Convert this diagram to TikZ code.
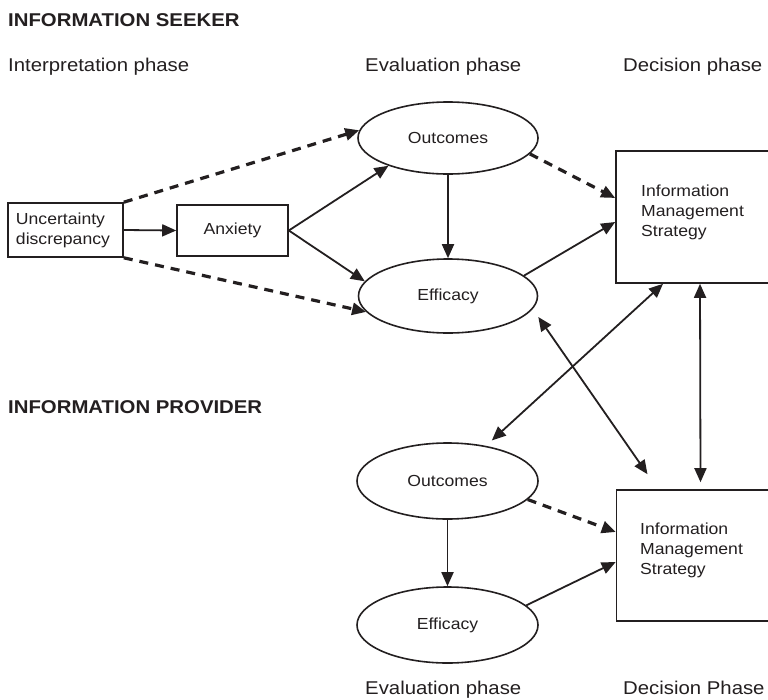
\documentclass[tikz,border=0pt]{standalone}
\usepackage{fontspec}
\setmainfont[FakeStretch=1.1]{Liberation Sans}
\usetikzlibrary{arrows.meta,shapes.geometric}
\definecolor{ink}{RGB}{35,31,32}
\newcommand\dgLbl{\fontsize{18.5}{22}\selectfont}
\newcommand\dgNode{\fontsize{16}{20}\selectfont}
\begin{document}
\begin{tikzpicture}[x=1pt,y=-1pt,
  tip/.style={-{Triangle[length=14pt,width=12pt]}},
  dtip/.style={{Triangle[length=14pt,width=12pt]}-{Triangle[length=14pt,width=12pt]}},
  solidln/.style={draw=ink, line width=1.8pt},
  dashln/.style={draw=ink, line width=3.2pt, dash pattern=on 9pt off 7pt},
  box/.style={draw=ink, line width=1.6pt, rectangle, inner sep=0pt, text=ink, font=\dgNode},
  oval/.style={draw=ink, line width=1.6pt, ellipse, inner sep=0pt, text=ink, font=\dgNode},
  lbl/.style={anchor=base west, inner sep=0pt, text=ink, font=\dgLbl},
  imstext/.style={anchor=north west, inner sep=0pt, align=left, text=ink, font=\dgNode}]
\clip (0,0) rectangle (768,699);
\fill[white] (0,0) rectangle (768,699);

% headings
\node[lbl, font=\dgLbl\bfseries] (seeker) at (8,26) {INFORMATION SEEKER};
\node[lbl] (ip) at (8,71.5) {Interpretation phase};
\node[lbl] (ep1) at (365,71.5) {Evaluation phase};
\node[lbl] (dp1) at (623,71.5) {Decision phase};
\node[lbl, font=\dgLbl\bfseries] (prov) at (8,413.5) {INFORMATION PROVIDER};
\node[lbl] (ep2) at (365,694.5) {Evaluation phase};
\node[lbl] (dp2) at (623,694.5) {Decision Phase};

% seeker nodes
\node[box, minimum width=115pt, minimum height=54pt, text width=99pt, inner xsep=8pt, align=left] (uc) at (65.5,230) {Uncertainty\\discrepancy};
\node[box, minimum width=111pt, minimum height=51pt] (anx) at (232.5,230.5) {Anxiety};
\node[oval, minimum width=180pt, minimum height=72pt] (o1) at (448,138) {Outcomes};
\node[oval, minimum width=179pt, minimum height=74pt] (e1) at (448,296) {Efficacy};
\node[box, minimum width=156pt, minimum height=132pt] (ims1) at (694,217) {};
\node[imstext] (ims1t) at (641,185) {Information\\Management\\Strategy};

% provider nodes
\node[oval, minimum width=181pt, minimum height=76pt] (o2) at (447.5,481) {Outcomes};
\node[oval, minimum width=181pt, minimum height=76pt] (e2) at (447.5,625) {Efficacy};
\node[box, minimum width=156pt, minimum height=131pt] (ims2) at (694.5,555.5) {};
\node[imstext] (ims2t) at (640,523) {Information\\Management\\Strategy};

% seeker connectors
\draw[dashln, tip] (uc.north east) -- (o1.175);
\draw[dashln, tip] (uc.south east) -- (e1.191);
\draw[solidln, tip] (uc.east) -- (anx.west);
\draw[solidln, tip] (anx.east) -- (o1.205);
\draw[solidln, tip] (anx.east) -- (e1.170);
\draw[solidln, tip] (o1.south) -- (e1.north);
\draw[dashln, tip] (o1.-11) -- ([yshift=19pt]ims1.west);
\draw[solidln, tip] (e1.15) -- ([yshift=-5pt]ims1.west);

% cross connectors
\draw[solidln, dtip, shorten >=8pt] ([xshift=-31pt]ims1.south) -- (o2);
\draw[solidln, dtip] ([yshift=-21pt]e1.east) -- ([xshift=-47pt,yshift=15pt]ims2.north);
\draw[solidln, dtip] ([xshift=6pt]ims1.south) -- ([xshift=6pt,yshift=7pt]ims2.north);

% provider connectors
\draw[dashln, tip] (o2.-13) -- ([yshift=23.5pt]ims2.west);
\draw[solidln, tip] (o2.south) -- (e2.north);
\draw[solidln, tip] (e2.14) -- ([yshift=-6.5pt]ims2.west);
\end{tikzpicture}
\end{document}
